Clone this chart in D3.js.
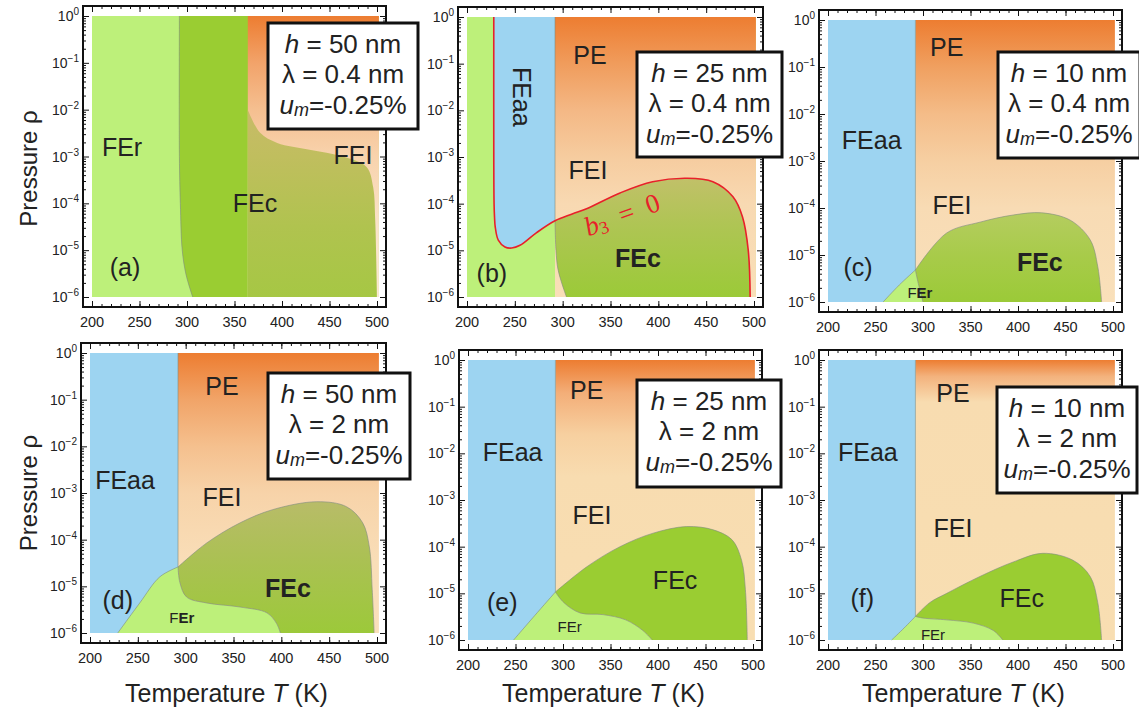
<!DOCTYPE html>
<html>
<head>
<meta charset="utf-8">
<script src="https://cdn.jsdelivr.net/npm/d3@7"></script>
<style>
  body { margin: 0; background: #fff; }
  text { font-family: "Liberation Sans", Arial, sans-serif; fill: #222; }
</style>
</head>
<body>
<svg id="chart" width="1139" height="715"></svg>
<script>
// ---------- data ----------
const tempTicks = [200, 250, 300, 350, 400, 450, 500];
const pressureTicks = [1, 1e-1, 1e-2, 1e-3, 1e-4, 1e-5, 1e-6];
const exponentLabels = ["0", "\u22121", "\u22122", "\u22123", "\u22124", "\u22125", "\u22126"];

const filmH = [50, 25, 10, 50, 25, 10];
const lambdaNm = ["0.4", "0.4", "0.4", "2", "2", "2"];
const misfit = "-0.25%";

// boundaries, [T (K), pressure]
const aFEcLeft = [[292, 1], [292, 1e-3], [293, 1e-4], [295, 1e-5], [299, 3e-6], [306, 1e-6]];
const aFEcTop = [[364, 1e-2], [377, 3.2e-3], [395, 1.95e-3], [429, 1.4e-3], [464, 1e-3],
  [489, 6e-4], [496, 2.2e-4], [498, 5e-5], [499, 1e-5], [500, 1e-6]];
const aPEleft = 364;

const bRedLeft = [[228, 1], [228, 1e-3], [228.3, 1e-4], [228.8, 5e-5], [229.5, 3.2e-5],
  [232.7, 1.66e-5], [239.7, 1.18e-5], [246.7, 1.12e-5], [255.4, 1.28e-5], [272.8, 2.4e-5], [292, 4.3e-5]];
const bRedRight = [[292, 4.3e-5], [310, 6e-5], [325, 7.8e-5], [360, 1.7e-4], [394, 2.95e-4], [430, 3.5e-4],
  [457, 2.95e-4], [478, 1.4e-4], [488, 5.2e-5], [494, 1e-5], [496, 1e-6]];
const bFEcLeft = [[292, 4.3e-5], [293, 1e-5], [295, 4e-6], [299, 2e-6], [304, 1e-6]];

const cFErLeft = [[258, 1e-6], [275, 2.3e-6], [292, 4.8e-6]];
const cFErRight = [[292, 4.8e-6], [295, 2.5e-6], [300, 1e-6]];
const cFEcTop = [[292, 4.8e-6], [325, 2.95e-5], [360, 5e-5], [395, 7.1e-5], [425, 7.9e-5],
  [455, 5.5e-5], [476, 2.1e-5], [484, 5.6e-6], [488, 1e-6]];

const dFErLeft = [[229, 1e-6], [252, 4.4e-6], [273, 1.6e-5], [292, 2.6e-5]];
const dFErRight = [[292, 2.6e-5], [294, 1.2e-5], [301, 5.9e-6], [322, 4.4e-6], [357, 3.6e-6],
  [385, 2.7e-6], [395, 1.6e-6], [399, 1e-6]];
const dFEcTop = [[292, 2.6e-5], [322, 8.5e-5], [357, 2.3e-4], [391, 4.4e-4], [437, 6.5e-4],
  [468, 5.1e-4], [485, 2.3e-4], [492, 7e-5], [495, 8.5e-6], [497, 1e-6]];

const eFErLeft = [[248, 1e-6], [270, 3.3e-6], [292, 1.07e-5]];
const eFErRight = [[292, 1.07e-5], [301, 6.3e-6], [318, 3.8e-6], [342, 3.5e-6], [366, 2.7e-6],
  [384, 1.6e-6], [394, 1e-6]];
const eFEcTop = [[292, 1.07e-5], [325, 3.7e-5], [360, 1e-4], [395, 1.95e-4], [430, 2.7e-4],
  [458, 2.3e-4], [478, 1.4e-4], [488, 5.1e-5], [492, 1.2e-5], [494, 1e-6]];

const fFErLeft = [[267, 1e-6], [280, 1.8e-6], [292, 3.2e-6]];
const fFErRight = [[292, 3.2e-6], [300, 2.95e-6], [325, 2.7e-6], [353, 2.3e-6], [374, 1.6e-6], [384, 1e-6]];
const fFEcTop = [[292, 3.2e-6], [307, 6.3e-6], [325, 1e-5], [360, 2.3e-5], [395, 4.7e-5],
  [426, 7.2e-5], [458, 5.1e-5], [476, 2.3e-5], [484, 6.3e-6], [488, 1e-6]];

const feaaEdge = 292;

// phase labels [text, T, pressure]
const aLabels = [["FEr", 231.6, 1.58e-3], ["FEc", 371.6, 1e-4], ["FEI", 474.7, 1.07e-3], ["(a)", 234.7, 4.4e-6]];
const bLabels = [["PE", 328.5, 0.155], ["FEaa", 258, 0.0195], ["FEI", 326.4, 5.2e-4], ["FEc", 378.7, 6.9e-6], ["(b)", 226, 3.2e-6]];
const cLabels = [["PE", 325, 0.27], ["FEaa", 246, 2.8e-3], ["FEI", 330.5, 1.15e-4], ["FEc", 423, 7.1e-6], ["(c)", 231.6, 5.5e-6], ["FEr", 296.8, 1.6e-6]];
const dLabels = [["PE", 338, 0.2], ["FEaa", 236.6, 1.9e-3], ["FEI", 338, 8.1e-4], ["FEc", 407, 9.1e-6], ["(d)", 229, 5.1e-6], ["FEr", 296, 2.2e-6]];
const eLabels = [["PE", 325, 0.23], ["FEaa", 247, 0.0107], ["FEI", 330.5, 4.8e-4], ["FEc", 418, 1.95e-5], ["(e)", 236, 6.5e-6], ["FEr", 307, 1.9e-6]];
const fLabels = [["PE", 331.6, 0.2], ["FEaa", 242, 0.0107], ["FEI", 331.6, 2.5e-4], ["FEc", 404, 7.9e-6], ["(f)", 236, 7.9e-6], ["FEr", 310.5, 1.3e-6]];
const b3Label = [362, 5.8e-5];

// ---------- styling ----------
const col = { ferr: "#bdf07a", fec: "#9acd32", feaa: "#9dd4f1", edge: "#7f8a80", red: "#e8202a" };

const peStops = {
  a: [[0, "#ed7d31"], [-1, "#f2a36a"], [-2, "#f5bf90"], [-3, "#f8d3ad"], [-4.5, "#fae3c9"], [-6, "#fbe8d2"]],
  b: [[0, "#ed7d31"], [-1, "#f09c5c"], [-2, "#f4b885"], [-3, "#f6cc9f"], [-4, "#f8d9b2"], [-6, "#f9dfb8"]],
  c: [[0, "#ed7d31"], [-1, "#f0a060"], [-2, "#f4bc88"], [-3, "#f6cfa2"], [-4, "#f8dbb4"], [-6, "#f9e0ba"]],
  d: [[0, "#ed7d31"], [-1, "#f1a468"], [-2, "#f5c08e"], [-3, "#f7d3a9"], [-4.5, "#f9deb8"], [-6, "#f9e0bb"]],
  e: [[0, "#ed7d31"], [-0.7, "#f3ae78"], [-1.6, "#f7d0a0"], [-2.5, "#f8dcb0"], [-6, "#f8deb2"]],
  f: [[0, "#ed7d31"], [-0.35, "#f3b27d"], [-0.9, "#f8dcb0"], [-6, "#f8deb2"]]
};
const fecStops = {
  a: [[-2, "#c8bb68"], [-3, "#c0be5e"], [-4.5, "#b0c34f"], [-6, "#a6c744"]],
  b: [[-3.4, "#c2c06a"], [-4.5, "#aec553"], [-6, "#9bca38"]],
  c: [[-4, "#b6cd62"], [-5, "#a8cb4a"], [-6, "#9bca38"]],
  d: [[-3.2, "#b8bc68"], [-4.5, "#aac152"], [-6, "#9cc93a"]],
  e: [[0, "#9acd32"], [-6, "#9acd32"]],
  f: [[0, "#9acd32"], [-6, "#9acd32"]]
};

const panels = [
  { id: "a", x0: 92, x1: 377, yTop: 16, yBot: 297, box: [268, 23, 150, 106], labels: aLabels },
  { id: "b", x0: 467, x1: 754, yTop: 17, yBot: 297, box: [637, 52, 145, 105], labels: bLabels, boldFEc: true },
  { id: "c", x0: 828, x1: 1113, yTop: 20, yBot: 302, box: [998, 52, 142, 106], labels: cLabels, boldFEc: true, boldFEr: true },
  { id: "d", x0: 90, x1: 377, yTop: 353, yBot: 633, box: [268, 373, 142, 106], labels: dLabels, boldFEc: true, boldFEr: true },
  { id: "e", x0: 468, x1: 753, yTop: 360, yBot: 640, box: [637, 380, 144, 107], labels: eLabels },
  { id: "f", x0: 828, x1: 1113, yTop: 360, yBot: 640, box: [997, 387, 140, 106], labels: fLabels }
];

const svg = d3.select("#chart");
const defs = svg.append("defs");

function gradient(name, stops, y) {
  const lg = defs.append("linearGradient")
    .attr("id", name)
    .attr("gradientUnits", "userSpaceOnUse")
    .attr("x1", 0).attr("x2", 0)
    .attr("y1", y(1)).attr("y2", y(1e-6));
  const span = y(1e-6) - y(1);
  stops.forEach(s => {
    lg.append("stop")
      .attr("offset", (y(Math.pow(10, s[0])) - y(1)) / span)
      .attr("stop-color", s[1]);
  });
  return `url(#${name})`;
}

function drawPanel(cfg, idx) {
  const x = d3.scaleLinear().domain([200, 500]).range([cfg.x0, cfg.x1]);
  const y = d3.scaleLog().domain([1, 1e-6]).range([cfg.yTop, cfg.yBot]);
  const g = svg.append("g");
  const curve = d3.line().x(d => x(d[0])).y(d => y(d[1])).curve(d3.curveCatmullRom.alpha(0.5));

  // parts: lists of points; a one-point list is a sharp corner
  const pathOf = (parts, close = true) => {
    let d = "";
    parts.forEach(pts => {
      const s = pts.length > 1 ? curve(pts) : `M${x(pts[0][0])},${y(pts[0][1])}`;
      d += d ? "L" + s.slice(1) : s;
    });
    return close ? d + "Z" : d;
  };
  const rect = (t0, t1) => pathOf([[[t0, 1]], [[t1, 1]], [[t1, 1e-6]], [[t0, 1e-6]]]);
  const rev = a => a.slice().reverse();

  const peFill = gradient("pe-" + cfg.id, peStops[cfg.id], y);
  const fecFill = gradient("fec-" + cfg.id, fecStops[cfg.id], y);
  const tEnd = 502;

  const layers = [];
  const edges = [];
  if (cfg.id === "a") {
    layers.push([rect(200, tEnd), col.ferr]);
    layers.push([pathOf([aFEcLeft, [[500, 1e-6]], [[500, 1]]]), col.fec]);
    layers.push([rect(aPEleft, tEnd), peFill]);
    layers.push([pathOf([aFEcTop, [[aPEleft, 1e-6]]]), fecFill]);
    edges.push(aFEcLeft);
  } else if (cfg.id === "b") {
    layers.push([rect(200, tEnd), col.ferr]);
    layers.push([pathOf([bRedLeft, [[feaaEdge, 1]]]), col.feaa]);
    layers.push([rect(feaaEdge, tEnd), peFill]);
    layers.push([pathOf([bRedRight, rev(bFEcLeft)]), fecFill]);
    edges.push(bFEcLeft, [[feaaEdge, bFEcLeft[0][1]], [feaaEdge, 1]]);
  } else {
    const sets = {
      c: [cFErLeft, cFErRight, cFEcTop],
      d: [dFErLeft, dFErRight, dFEcTop],
      e: [eFErLeft, eFErRight, eFEcTop],
      f: [fFErLeft, fFErRight, fFEcTop]
    }[cfg.id];
    const [left, right, top] = sets;
    layers.push([rect(feaaEdge, tEnd), peFill]);
    layers.push([rect(200, feaaEdge), col.feaa]);
    layers.push([pathOf([left, right]), col.ferr]);
    layers.push([pathOf([top, rev(right)]), fecFill]);
    edges.push(left, right, top, [[feaaEdge, left[left.length - 1][1]], [feaaEdge, 1]]);
  }

  g.append("g").selectAll("path").data(layers).join("path")
    .attr("d", d => d[0])
    .attr("fill", d => d[1]);

  g.append("g").selectAll("path").data(edges).join("path")
    .attr("d", d => pathOf([d], false))
    .attr("fill", "none")
    .attr("stroke", col.edge)
    .attr("stroke-opacity", 0.6)
    .attr("stroke-width", 1);

  if (cfg.id === "b") {
    g.append("path")
      .attr("d", curve(bRedLeft.concat(bRedRight.slice(1))))
      .attr("fill", "none")
      .attr("stroke", col.red)
      .attr("stroke-width", 1.6);
    const t = g.append("text")
      .attr("transform", `translate(${x(b3Label[0])},${y(b3Label[1])}) rotate(-20)`)
      .attr("text-anchor", "middle")
      .attr("dominant-baseline", "central")
      .style("font-family", "'Liberation Serif', 'Times New Roman', serif")
      .style("font-size", "27px")
      .style("fill", col.red);
    t.append("tspan").style("font-style", "italic").style("fill", col.red).text("b");
    t.append("tspan").attr("dy", 6).style("font-size", "18px").style("fill", col.red).text("3");
    t.append("tspan").attr("dy", -6).style("fill", col.red).text("\u2002=\u20020");
  }

  // frame + ticks
  const fx0 = cfg.x0 - 9, fx1 = cfg.x1 + 9, fy0 = cfg.yTop - 10, fy1 = cfg.yBot + 10;
  const tMinor = d3.range(200, 501, 10);
  const pMinor = [];
  d3.range(-6, 0).forEach(k => d3.range(2, 10).forEach(m => pMinor.push(m * Math.pow(10, k))));

  const axes = g.append("g");
  const addAxis = (axisFn, scale, vals, size, tr) => {
    const a = axes.append("g").attr("transform", tr)
      .call(axisFn(scale).tickValues(vals).tickSize(-size).tickFormat(""));
    a.select(".domain").remove();
    a.selectAll("line").attr("stroke", "#111").attr("stroke-width", 1);
  };
  addAxis(d3.axisBottom, x, tempTicks, 6, `translate(0,${fy1})`);
  addAxis(d3.axisBottom, x, tMinor, 3, `translate(0,${fy1})`);
  addAxis(d3.axisTop, x, tempTicks, 6, `translate(0,${fy0})`);
  addAxis(d3.axisTop, x, tMinor, 3, `translate(0,${fy0})`);
  addAxis(d3.axisLeft, y, pressureTicks, 6, `translate(${fx0},0)`);
  addAxis(d3.axisLeft, y, pMinor, 3, `translate(${fx0},0)`);
  addAxis(d3.axisRight, y, pressureTicks, 6, `translate(${fx1},0)`);
  addAxis(d3.axisRight, y, pMinor, 3, `translate(${fx1},0)`);

  g.append("rect")
    .attr("x", fx0).attr("y", fy0)
    .attr("width", fx1 - fx0).attr("height", fy1 - fy0)
    .attr("fill", "none").attr("stroke", "#111").attr("stroke-width", 2);

  g.append("g").selectAll("text").data(tempTicks).join("text")
    .attr("x", d => x(d)).attr("y", fy1 + 15)
    .attr("text-anchor", "middle").attr("dominant-baseline", "central")
    .style("font-size", "14.5px")
    .text(d => d);

  const yl = g.append("g").selectAll("text").data(pressureTicks).join("text")
    .attr("x", fx0 - 4).attr("y", d => y(d) + 5)
    .attr("text-anchor", "end")
    .style("font-size", "14px");
  yl.append("tspan").text("10");
  yl.append("tspan").attr("dy", -6).style("font-size", "10px").text((d, i) => exponentLabels[i]);

  // phase labels
  cfg.labels.forEach(([txt, T, p]) => {
    const t = g.append("text")
      .attr("x", x(T)).attr("y", y(p))
      .attr("text-anchor", "middle").attr("dominant-baseline", "central")
      .style("font-size", "25px");
    if (txt === "FEaa" && cfg.id === "b") {
      t.attr("transform", `rotate(90,${x(T)},${y(p)})`);
    }
    if (txt === "FEc" && cfg.boldFEc) t.style("font-weight", "bold");
    if (txt === "FEr" && cfg.id !== "a") {
      t.style("font-size", "15px");
      if (cfg.boldFEr) {
        t.append("tspan").text("F");
        t.append("tspan").style("font-weight", "bold").text("Er");
        return;
      }
    }
    t.text(txt);
  });

  // parameter box
  const [bx, by, bw, bh] = cfg.box;
  g.append("rect")
    .attr("x", bx).attr("y", by).attr("width", bw).attr("height", bh)
    .attr("fill", "#fff").attr("stroke", "#111").attr("stroke-width", 3);
  const cx = bx + bw / 2;
  const l1 = g.append("text").attr("x", cx).attr("y", by + 21)
    .attr("text-anchor", "middle").attr("dominant-baseline", "central").style("font-size", "26px");
  l1.append("tspan").style("font-style", "italic").text("h");
  l1.append("tspan").text(` = ${filmH[idx]} nm`);
  g.append("text").attr("x", cx).attr("y", by + 51)
    .attr("text-anchor", "middle").attr("dominant-baseline", "central").style("font-size", "26px")
    .text(`\u03bb = ${lambdaNm[idx]} nm`);
  const l3 = g.append("text").attr("x", cx).attr("y", by + 82)
    .attr("text-anchor", "middle").attr("dominant-baseline", "central").style("font-size", "26px");
  l3.append("tspan").style("font-style", "italic").text("u");
  l3.append("tspan").style("font-style", "italic").style("font-size", "18px").attr("dy", 5).text("m");
  l3.append("tspan").attr("dy", -5).text("=" + misfit);

  return { x, y };
}

const scales = panels.map(drawPanel);

// axis titles
[[scales[0], 12], [scales[3], 0]].forEach(([s, shift]) => {
  const cy = (s.y(1) + s.y(1e-6)) / 2 + shift;
  svg.append("text")
    .attr("transform", `translate(28,${cy}) rotate(-90)`)
    .attr("text-anchor", "middle").attr("dominant-baseline", "central")
    .style("font-size", "24px")
    .text("Pressure \u03c1");
});
[scales[3], scales[4], scales[5]].forEach(s => {
  const cx = (s.x(200) + s.x(500)) / 2 - 7;
  const t = svg.append("text")
    .attr("x", cx).attr("y", 693)
    .attr("text-anchor", "middle").attr("dominant-baseline", "central")
    .style("font-size", "25px");
  t.append("tspan").text("Temperature ");
  t.append("tspan").style("font-style", "italic").text("T");
  t.append("tspan").text(" (K)");
});
</script>
</body>
</html>
